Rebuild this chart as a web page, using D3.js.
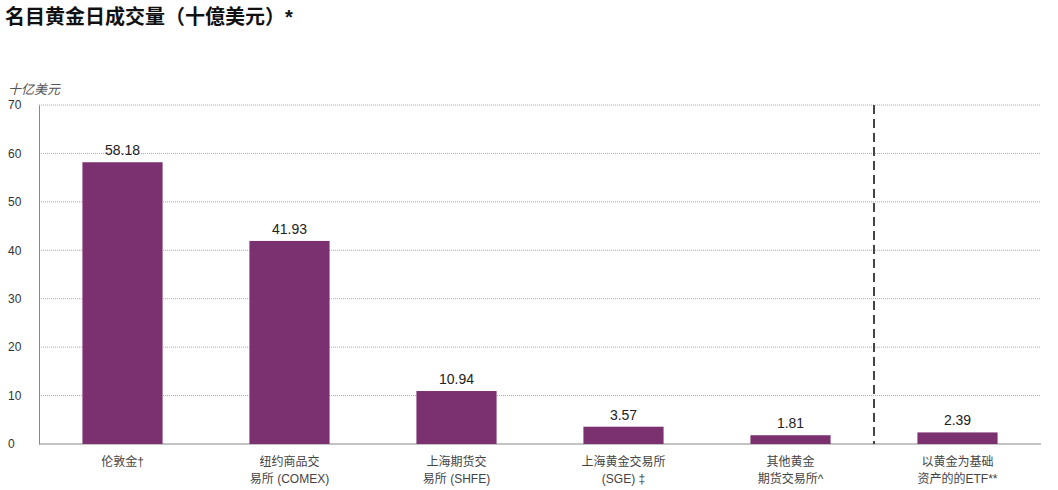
<!DOCTYPE html>
<html><head><meta charset="utf-8">
<script src="https://cdn.jsdelivr.net/npm/d3@7"></script>
<style>
body{margin:0;background:#fff;font-family:"Liberation Sans","Noto Sans CJK SC",sans-serif;}
</style></head><body>
<script>
var categories = [["伦敦金†"], ["纽约商品交", "易所 (COMEX)"], ["上海期货交", "易所  (SHFE)"], ["上海黄金交易所", "(SGE)  ‡"], ["其他黄金", "期货交易所^"], ["以黄金为基础", "资产的的ETF**"]];
var values = [58.18, 41.93, 10.94, 3.57, 1.81, 2.39];
var yTicks = [0, 10, 20, 30, 40, 50, 60, 70];

(function() {
var W = 1058, H = 490;
var plotLeft = 39, plotRight = 1041, plotTop = 105, plotBottom = 444;

var svg = d3.select('body').append('svg').attr('width', W).attr('height', H);

svg.append('text').attr('x', 5).attr('y', 24)
	.attr('font-size', 20).attr('font-weight', 'bold').attr('fill', '#111')
	.text('名目黄金日成交量（十億美元）*');

var x = d3.scaleBand().domain(d3.range(categories.length)).range([plotLeft, plotRight]).paddingInner(0.52).paddingOuter(0.26);
var y = d3.scaleLinear().domain([0, 70]).range([plotBottom, plotTop]);

// grid
svg.append('g').selectAll('line').data(yTicks.slice(1)).enter().append('line')
	.attr('x1', plotLeft).attr('x2', plotRight)
	.attr('y1', function(d) { return y(d); }).attr('y2', function(d) { return y(d); })
	.attr('stroke', '#aaa').attr('stroke-dasharray', '1,1');

var yAxis = svg.append('g').attr('transform', 'translate(' + plotLeft + ',0)')
	.call(d3.axisLeft(y).tickValues(yTicks).tickSize(0).tickPadding(14));
yAxis.select('.domain').attr('stroke', '#888');
yAxis.selectAll('text').attr('font-size', 12).attr('fill', '#333').attr('text-anchor', 'start').attr('x', -31);

svg.append('text').attr('x', 8).attr('y', 94).attr('font-size', 13).attr('font-style', 'italic')
	.attr('fill', '#555').text('十亿美元');

// baseline
svg.append('line').attr('x1', plotLeft).attr('x2', plotRight).attr('y1', plotBottom).attr('y2', plotBottom).attr('stroke', '#888');

// separator before ETF
var sepX = (x(4) + x.bandwidth() + x(5)) / 2;
svg.append('line').attr('x1', sepX).attr('x2', sepX).attr('y1', plotTop).attr('y2', plotBottom)
	.attr('stroke', '#444').attr('stroke-width', 2).attr('stroke-dasharray', '9,5');

svg.append('g').selectAll('rect').data(values).enter().append('rect')
	.attr('x', function(d, i) { return x(i); })
	.attr('width', x.bandwidth())
	.attr('y', function(d) { return y(d); })
	.attr('height', function(d) { return plotBottom - y(d); })
	.attr('fill', '#7b3170');

svg.append('g').selectAll('text').data(values).enter().append('text')
	.attr('x', function(d, i) { return x(i) + x.bandwidth() / 2; })
	.attr('y', function(d) { return y(d) - 7; })
	.attr('text-anchor', 'middle').attr('font-size', 14).attr('fill', '#222')
	.text(function(d) { return d.toFixed(2); });

var lab = svg.append('g').selectAll('text').data(categories).enter().append('text')
	.attr('text-anchor', 'middle').attr('font-size', 12).attr('fill', '#444')
	.attr('x', function(d, i) { return x(i) + x.bandwidth() / 2; })
	.attr('y', 466);
lab.selectAll('tspan').data(function(d) { return d; }).enter().append('tspan')
	.attr('x', function() { return d3.select(this.parentNode).attr('x'); })
	.attr('dy', function(d, i) { return i ? 17 : 0; })
	.text(function(d) { return d; });
})();
</script>
</body></html>
